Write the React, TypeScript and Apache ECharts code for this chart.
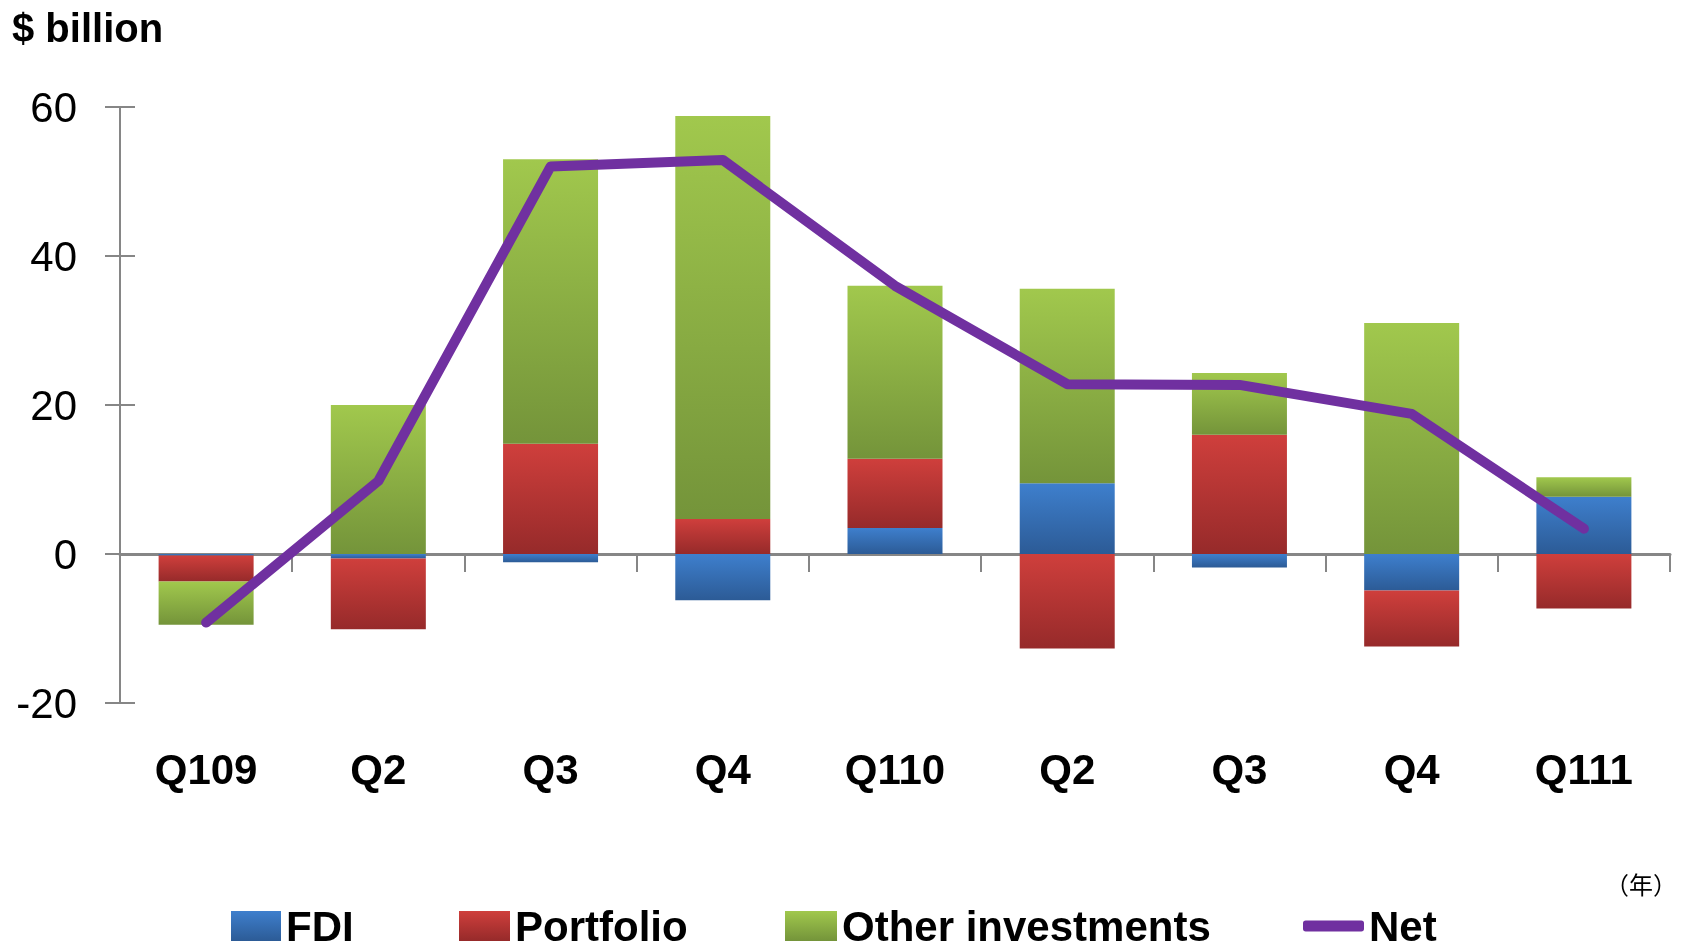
import React, { useEffect, useRef } from "react";
import * as echarts from "echarts";

const categories = ["Q109", "Q2", "Q3", "Q4", "Q110", "Q2", "Q3", "Q4", "Q111"];
const fdi = [-0.2, -0.6, -1.1, -6.2, 3.5, 9.5, -1.8, -4.9, 7.7];
const portfolio = [-3.5, -9.5, 14.8, 4.7, 9.3, -12.7, 16.0, -7.5, -7.3];
const other = [-5.8, 20.0, 38.2, 54.1, 23.2, 26.1, 8.3, 31.0, 2.6];
const net = [-9.2, 9.8, 52.0, 52.9, 36.0, 22.8, 22.7, 18.8, 3.4];
const yTicks = { min: -20, max: 60, interval: 20 };

const FONT = "'Liberation Sans', Arial, sans-serif";

const grad = (top: string, bottom: string) =>
  new echarts.graphic.LinearGradient(0, 0, 0, 1, [
    { offset: 0, color: top },
    { offset: 1, color: bottom },
  ]);

export default function App() {
  const ref = useRef<HTMLDivElement>(null);
  useEffect(() => {
    document.body.style.margin = "0";
    const chart = echarts.init(ref.current!, null, { renderer: "svg" });
    const blue = grad("#3e7fcd", "#2c5b96");
    const red = grad("#cf3f3c", "#962a2a");
    const green = grad("#a1c84d", "#74943a");
    const purple = "#7030a0";
    const legendText = {
      fontFamily: FONT,
      fontSize: 42,
      fontWeight: "bold" as const,
      color: "#000",
      lineHeight: 40,
    };
    const mkLegend = (name: string, left: number, w: number, h: number, icon: string) => ({
      data: [name],
      left,
      top: 905,
      itemWidth: w,
      itemHeight: h,
      icon,
      itemGap: 0,
      padding: 0,
      textStyle: { ...legendText, padding: [0, 0, 0, 0] },
      selectedMode: false,
    });
    chart.setOption({
      animation: false,
      grid: { left: 120, right: 14, top: 107, bottom: 247, containLabel: false },
      legend: [
        mkLegend("FDI", 231, 50, 30, "rect"),
        mkLegend("Portfolio", 459, 51, 30, "rect"),
        mkLegend("Other investments", 785, 52, 30, "rect"),
        mkLegend("Net", 1303, 61, 11, "roundRect"),
      ],
      xAxis: [
        {
          type: "category",
          data: categories,
          position: "bottom",
          axisLine: { onZero: true, lineStyle: { color: "#868686", width: 3 } },
          axisTick: { show: true, alignWithLabel: false, interval: 0, length: 18, lineStyle: { color: "#868686", width: 2 } },
          axisLabel: { show: false },
          splitLine: { show: false },
        },
        {
          type: "category",
          data: categories,
          position: "bottom",
          axisLine: { show: false, onZero: false },
          axisTick: { show: false },
          axisLabel: {
            show: true,
            interval: 0,
            margin: 45,
            fontFamily: FONT,
            fontSize: 42,
            fontWeight: "bold",
            color: "#000",
          },
          splitLine: { show: false },
        },
      ],
      yAxis: [
        {
          type: "value",
          position: "left",
          ...yTicks,
          axisLine: { show: true, onZero: false, lineStyle: { color: "#868686", width: 2 } },
          axisTick: { show: true, inside: false, length: 15, lineStyle: { color: "#868686", width: 2 } },
          axisLabel: { margin: 43, fontFamily: FONT, fontSize: 42, color: "#000" },
          splitLine: { show: false },
        },
        {
          type: "value",
          position: "left",
          offset: 0,
          ...yTicks,
          axisLine: { show: false },
          axisTick: { show: true, inside: true, length: 15, lineStyle: { color: "#868686", width: 2 } },
          axisLabel: { show: false },
          splitLine: { show: false },
        },
      ],
      series: [
        { name: "FDI", type: "bar", stack: "s", data: fdi, barWidth: 95, itemStyle: { color: blue } },
        { name: "Portfolio", type: "bar", stack: "s", data: portfolio, barWidth: 95, itemStyle: { color: red } },
        { name: "Other investments", type: "bar", stack: "s", data: other, barWidth: 95, itemStyle: { color: green } },
        {
          name: "Net",
          type: "line",
          data: net,
          symbol: "none",
          z: 5,
          itemStyle: { color: purple },
          lineStyle: { color: purple, width: 10, cap: "round", join: "round" },
        },
      ],
      graphic: [
        {
          type: "text",
          left: 12,
          top: 8,
          style: { text: "$ billion", fontFamily: FONT, fontSize: 40, fontWeight: "bold", fill: "#000" },
        },
        {
          type: "text",
          left: 1605,
          top: 871,
          style: { text: "（年）", fontFamily: "'Noto Sans CJK JP', sans-serif", fontSize: 24, fill: "#000" },
        },
      ],
    });
    return () => chart.dispose();
  }, []);
  return <div ref={ref} style={{ position: "fixed", left: 0, top: 0, width: 1684, height: 950 }} />;
}
